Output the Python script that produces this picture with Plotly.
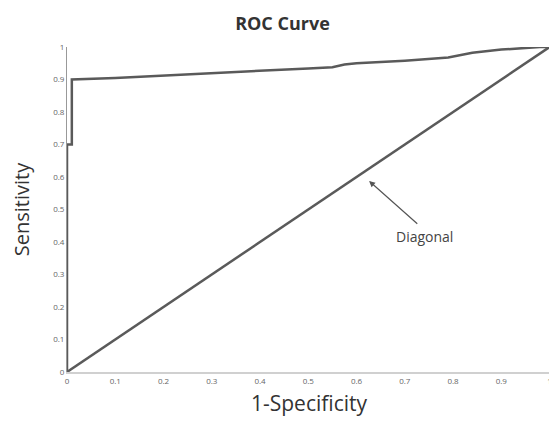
import plotly.graph_objects as go

# ROC curve values
fpr = [0.0, 0.0, 0.01, 0.01, 0.1, 0.2, 0.3, 0.4, 0.5, 0.55, 0.575, 0.6, 0.7, 0.79, 0.84, 0.9, 0.95, 0.98, 1.0]
tpr = [0.0, 0.7, 0.7, 0.9, 0.905, 0.912, 0.918, 0.926, 0.934, 0.938, 0.946, 0.95, 0.958, 0.968, 0.982, 0.992, 0.998, 1.0, 1.0]

diag_x = [0.0, 1.0]
diag_y = [0.0, 1.0]

tick_vals = [0, 0.1, 0.2, 0.3, 0.4, 0.5, 0.6, 0.7, 0.8, 0.9, 1]
tick_text = ["0", "0.1", "0.2", "0.3", "0.4", "0.5", "0.6", "0.7", "0.8", "0.9", "1"]

fig = go.Figure()
fig.add_trace(go.Scatter(x=diag_x, y=diag_y, mode="lines",
                         line=dict(color="#5a5a5a", width=2.5), showlegend=False))
fig.add_trace(go.Scatter(x=fpr, y=tpr, mode="lines",
                         line=dict(color="#5a5a5a", width=2.5), showlegend=False))

fig.add_annotation(x=0.626, y=0.588, ax=0.729, ay=0.452, xref="x", yref="y",
                   axref="x", ayref="y", text="", showarrow=True,
                   arrowhead=2, arrowsize=1, arrowwidth=1.2, arrowcolor="#555555")
fig.add_annotation(x=0.74, y=0.418, xref="x", yref="y", text="Diagonal",
                   showarrow=False, font=dict(family="Open Sans", size=14, color="#444444"))

# page body has an 8px margin, so the figure is sized to fit the 557x430 window
fig.update_layout(
    width=549, height=422,
    margin=dict(l=59, r=6, t=39, b=58),
    paper_bgcolor="white", plot_bgcolor="white",
    title=dict(text="<b>ROC Curve</b>", x=0.5, xanchor="center", y=0.962, yanchor="middle",
               xref="container", yref="container",
               font=dict(family="Open Sans", size=18, color="#333333")),
    xaxis=dict(range=[0, 1.003], tickvals=tick_vals, ticktext=tick_text, automargin=False,
               showgrid=False, zeroline=False, showline=True, linecolor="#d0d0d0", linewidth=2,
               ticks="", tickfont=dict(family="Open Sans", size=8, color="#666666"),
               title=dict(text="1-Specificity", font=dict(family="Open Sans", size=21, color="#333333"),
                          standoff=12)),
    yaxis=dict(range=[0, 1.0], tickvals=tick_vals, ticktext=tick_text, automargin=False,
               showgrid=False, zeroline=False, showline=True, linecolor="#999999", linewidth=1,
               ticks="", tickfont=dict(family="Open Sans", size=8, color="#666666"),
               title=dict(text="Sensitivity", font=dict(family="Open Sans", size=20, color="#333333"),
                          standoff=18)),
)

fig.write_html("out.html")
